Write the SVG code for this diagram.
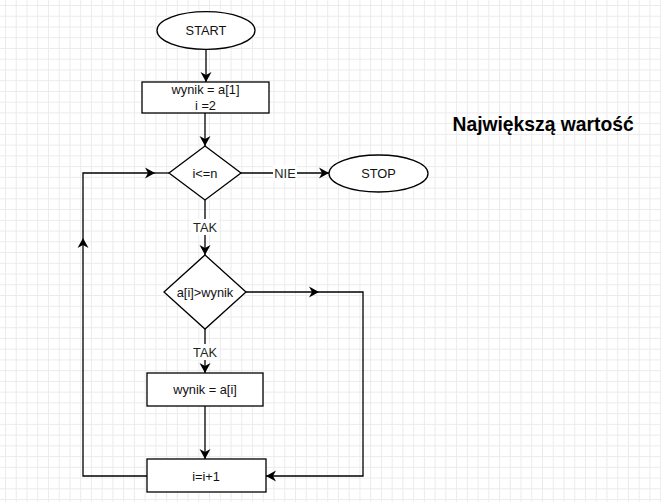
<svg xmlns="http://www.w3.org/2000/svg" width="661" height="502" viewBox="0 0 661 502">
<style>
.shape{fill:#fff;stroke:#000;stroke-width:1.3}
.edge{fill:none;stroke:#000;stroke-width:1.3}
.t{font-family:"Liberation Sans",Arial,sans-serif;font-size:12.8px;fill:#111;text-anchor:middle;dominant-baseline:central}
.lbl{font-family:"Liberation Sans",Arial,sans-serif;font-size:12.8px;fill:#1a2a1a;text-anchor:middle;dominant-baseline:central}
.title{font-family:"Liberation Sans",Arial,sans-serif;font-size:19.3px;font-weight:bold;fill:#000}
</style>
<defs>
<pattern id="grid" x="0.14" y="0.14" width="10.74" height="10.74" patternUnits="userSpaceOnUse">
<path d="M5.37 0V10.74M0 5.37H10.74" stroke="#ebebeb" stroke-width="1" fill="none"/>
</pattern>
<marker id="arr" markerUnits="userSpaceOnUse" markerWidth="12" markerHeight="12" refX="10" refY="5.5" orient="auto" viewBox="0 0 12 11">
<path d="M0 0L10 5.5L0 11L3 5.5Z" fill="#000"/>
</marker>
</defs>
<rect width="661" height="502" fill="#fff"/>
<rect width="661" height="502" fill="url(#grid)"/>

<g id="connectors">
<path class="edge" d="M206 49V82" marker-end="url(#arr)"/>
<path class="edge" d="M205 113V146" marker-end="url(#arr)"/>
<path class="edge" d="M241 173H329" marker-end="url(#arr)"/>
<path class="edge" d="M205 200V255" marker-end="url(#arr)"/>
<path class="edge" d="M246 292H319" marker-end="url(#arr)"/>
<path class="edge" d="M319 292H363V476H266" marker-end="url(#arr)"/>
<path class="edge" d="M205 329V373" marker-end="url(#arr)"/>
<path class="edge" d="M205 406V459" marker-end="url(#arr)"/>
<path class="edge" d="M147 476H83V238" marker-end="url(#arr)"/>
<path class="edge" d="M83 238V173H155" marker-end="url(#arr)"/>
<path class="edge" d="M155 173H169"/>
<rect x="273" y="165" width="24" height="16" fill="#fff"/>
<text class="lbl" x="285" y="173">NIE</text>
<rect x="191" y="219" width="28" height="16" fill="#fff"/>
<text class="lbl" x="205" y="227">TAK</text>
<rect x="191" y="344" width="28" height="16" fill="#fff"/>
<text class="lbl" x="205" y="352">TAK</text>
</g>

<g id="start">
<ellipse class="shape" cx="206" cy="30.5" rx="49" ry="18.8"/>
<text class="t" x="206" y="30.5">START</text>
</g>
<g id="init">
<rect class="shape" x="142" y="82" width="127" height="31"/>
<text class="t" x="205.5" y="89.5">wynik = a[1]</text>
<text class="t" x="205.5" y="105.5">i =2</text>
</g>
<g id="cond1">
<polygon class="shape" points="205,146 241,173 205,200 169,173"/>
<text class="t" x="205" y="173.5">i&lt;=n</text>
</g>
<g id="stop">
<ellipse class="shape" cx="378.5" cy="173.5" rx="49.5" ry="18.5"/>
<text class="t" x="378.5" y="173.5">STOP</text>
</g>
<g id="cond2">
<polygon class="shape" points="205,255 246,292 205,329 164,292"/>
<text class="t" x="205" y="292.5">a[i]&gt;wynik</text>
</g>
<g id="assign">
<rect class="shape" x="147" y="373" width="116" height="33"/>
<text class="t" x="205" y="389.5">wynik = a[i]</text>
</g>
<g id="incr">
<rect class="shape" x="147" y="459" width="119" height="33"/>
<text class="t" x="206" y="476">i=i+1</text>
</g>
<g id="title">
<text class="title" x="452.5" y="130.5">Największą wartość</text>
</g>
</svg>
